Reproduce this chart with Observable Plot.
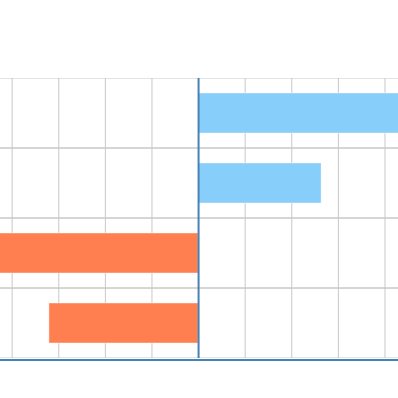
<!DOCTYPE html>
<html><head><meta charset="utf-8">
<script src="https://cdn.jsdelivr.net/npm/d3@7"></script>
<script src="https://cdn.jsdelivr.net/npm/@observablehq/plot@0.6"></script>
<style>body{margin:0;background:#fff}</style>
</head><body><div id="chart"></div>
<script>
const categories = ["A", "B", "C", "D"];
const values = [5, 2.64, -5, -3.2];
const xTicks = [-4, -3, -2, -1, 0, 1, 2, 3, 4];
const data = categories.map((c, i) => ({category: c, value: values[i]}));

const plot = Plot.plot({
  width: 398, height: 398,
  marginTop: 78, marginBottom: 40, marginLeft: 0, marginRight: 0,
  x: {domain: [-4.25, 4.29], axis: null},
  y: {domain: categories, padding: 0, axis: null},
  marks: [
    Plot.gridX(xTicks, {stroke: "#c8c8c8", strokeOpacity: 1}),
    Plot.barX(categories, {y: d => d, x1: -10, x2: 10, fill: "none", stroke: "#c8c8c8", clip: true}),
    Plot.barX(data, {y: "category", x: "value", fill: d => d.value > 0 ? "#87CEFA" : "#FF7F50", stroke: "white", strokeOpacity: 0.4, insetTop: 15, insetBottom: 15, clip: true}),
    Plot.ruleX([0], {stroke: "#4682b4", strokeWidth: 2}),
    Plot.frame({anchor: "bottom", stroke: "#4682b4", strokeWidth: 2, strokeOpacity: 1, dy: 1.5})
  ]
});
document.getElementById("chart").append(plot);
</script>
</body></html>
